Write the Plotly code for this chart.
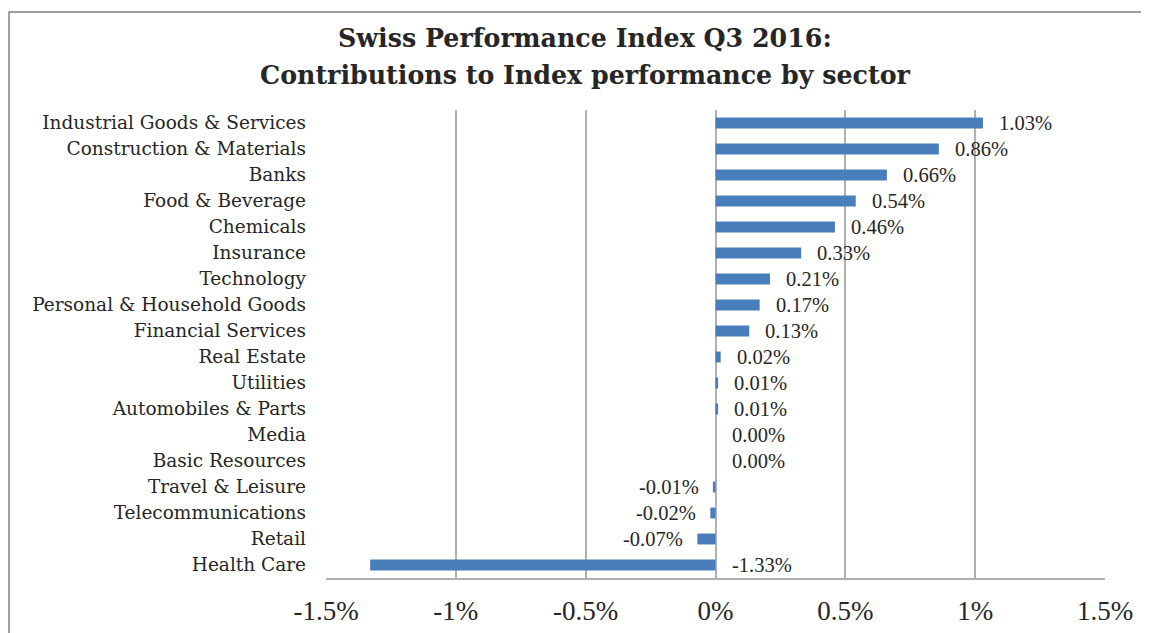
import plotly.graph_objects as go

sectors = ["Industrial Goods & Services", "Construction & Materials", "Banks", "Food & Beverage",
           "Chemicals", "Insurance", "Technology", "Personal & Household Goods", "Financial Services",
           "Real Estate", "Utilities", "Automobiles & Parts", "Media", "Basic Resources",
           "Travel & Leisure", "Telecommunications", "Retail", "Health Care"]
contrib = [1.03, 0.86, 0.66, 0.54, 0.46, 0.33, 0.21, 0.17, 0.13,
           0.02, 0.01, 0.01, 0.00, 0.00, -0.01, -0.02, -0.07, -1.33]
x_ticks = [-1.5, -1.0, -0.5, 0.0, 0.5, 1.0, 1.5]
x_tick_text = ["-1.5%", "-1%", "-0.5%", "0%", "0.5%", "1%", "1.5%"]
title_lines = ["Swiss Performance Index Q3 2016:", "Contributions to Index performance by sector"]

SERIF_W = "DejaVu Serif"
SERIF_N = "Liberation Serif"
TXT = "#262626"
BAR = "#4a7ebb"
GRID = "#b0b0b0"

# page body has an 8px margin; figure is sized so the plot sits where the reference has it
W, H = 1141, 625
ML, MT, PW, PH = 318, 102, 779, 468

fig = go.Figure(go.Bar(
    x=contrib, y=sectors, orientation="h", marker=dict(color=BAR, line=dict(width=0)),
    width=0.42, hoverinfo="x+y",
))

annotations = []
for s, v in zip(sectors, contrib):
    if v >= 0 or v < -1:
        annotations.append(dict(x=max(v, 0), y=s, xref="x", yref="y", text=f"{v:.2f}%",
                                showarrow=False, xanchor="left", xshift=14,
                                font=dict(family=SERIF_N, size=20.5, color=TXT)))
    else:
        annotations.append(dict(x=v, y=s, xref="x", yref="y", text=f"{v:.2f}%",
                                showarrow=False, xanchor="right", xshift=-12,
                                font=dict(family=SERIF_N, size=20.5, color=TXT)))

for line, ypix in zip(title_lines, [30, 67]):
    annotations.append(dict(x=(577 - ML) / PW, y=1 + (MT - ypix) / PH, xref="paper", yref="paper",
                            text=f"<b>{line}</b>", showarrow=False, xanchor="center", yanchor="middle",
                            font=dict(family=SERIF_W, size=25.3, color=TXT)))

fig.update_layout(
    width=W, height=H,
    margin=dict(l=ML, r=W - ML - PW, t=MT, b=H - MT - PH, autoexpand=False),
    paper_bgcolor="white", plot_bgcolor="white",
    showlegend=False,
    xaxis=dict(range=[-1.5, 1.5], tickvals=x_ticks, ticktext=x_tick_text,
               showgrid=True, gridcolor=GRID, gridwidth=2,
               zeroline=True, zerolinecolor=GRID, zerolinewidth=2,
               showline=True, linecolor=GRID, linewidth=2, mirror=False,
               ticks="", ticklabelstandoff=8, automargin=False,
               tickfont=dict(family=SERIF_N, size=27, color=TXT)),
    yaxis=dict(autorange="reversed", showgrid=False, showline=False, ticks="",
               ticklabelstandoff=19, automargin=False,
               tickfont=dict(family=SERIF_W, size=18.5, color=TXT)),
    annotations=annotations,
    shapes=[dict(type="rect", xref="paper", yref="paper",
                 x0=(1 - ML) / PW, x1=(1160 - ML) / PW,
                 y0=-0.3, y1=1 + (MT - 4) / PH,
                 line=dict(color="#a0a0a0", width=2), fillcolor="rgba(0,0,0,0)", layer="below")],
)

fig.write_html("out.html")
